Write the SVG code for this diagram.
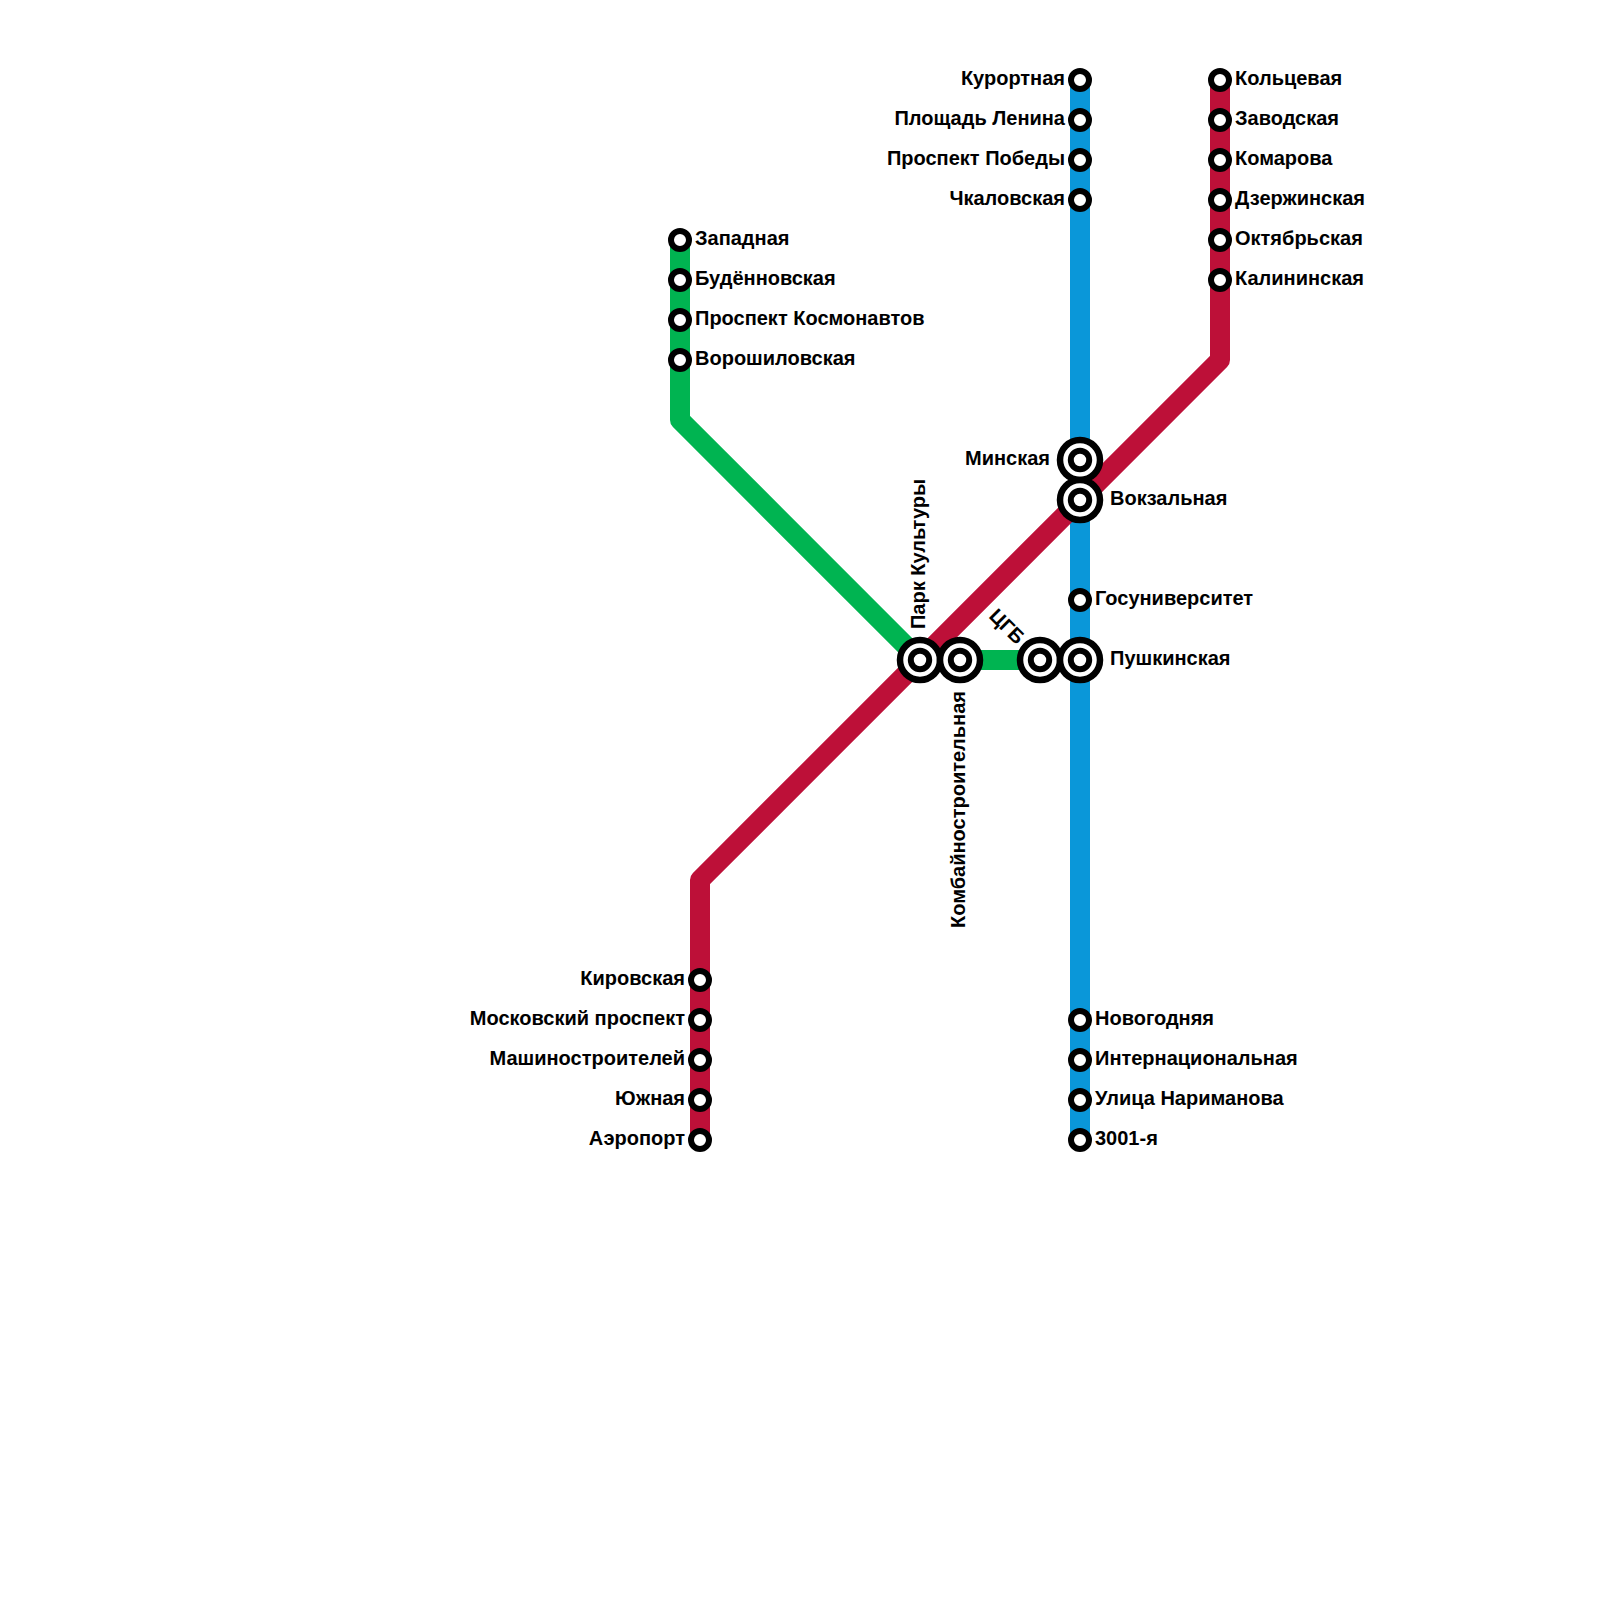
<svg xmlns="http://www.w3.org/2000/svg" width="1600" height="1600" viewBox="0 0 1600 1600">
<style>
.line{fill:none;stroke-width:20;stroke-linejoin:round}
.s{fill:#fff;stroke:#000;stroke-width:6}
.o{fill:#fff;stroke:#000;stroke-width:6.5}
text{font-family:"Liberation Sans",Arial,sans-serif;font-weight:700;font-size:20px;fill:#000}
.e{text-anchor:end}
</style>
<defs>
<g id="st"><circle class="s" r="9"/></g>
<g id="ic"><circle class="o" r="20"/><circle class="s" r="9.2"/></g>
</defs>
<rect width="1600" height="1600" fill="#fff"/>
<g id="connectors">
<path id="line-blue" class="line" stroke="#0a97d9" d="M1080 80V1140"/>
<path id="line-green" class="line" stroke="#00b451" d="M680 240V420L920 660H1040"/>
<path id="line-red" class="line" stroke="#bd1038" d="M1220 80V360L700 880V1140"/>
</g>
<g id="n-kurortnaya"><use href="#st" x="1080" y="80"/><text class="e" x="1065" y="85">Курортная</text></g>
<g id="n-ploshchad-lenina"><use href="#st" x="1080" y="120"/><text class="e" x="1065" y="125">Площадь Ленина</text></g>
<g id="n-prospekt-pobedy"><use href="#st" x="1080" y="160"/><text class="e" x="1065" y="165">Проспект Победы</text></g>
<g id="n-chkalovskaya"><use href="#st" x="1080" y="200"/><text class="e" x="1065" y="205">Чкаловская</text></g>
<g id="n-koltsevaya"><use href="#st" x="1220" y="80"/><text x="1235" y="85">Кольцевая</text></g>
<g id="n-zavodskaya"><use href="#st" x="1220" y="120"/><text x="1235" y="125">Заводская</text></g>
<g id="n-komarova"><use href="#st" x="1220" y="160"/><text x="1235" y="165">Комарова</text></g>
<g id="n-dzerzhinskaya"><use href="#st" x="1220" y="200"/><text x="1235" y="205">Дзержинская</text></g>
<g id="n-oktyabrskaya"><use href="#st" x="1220" y="240"/><text x="1235" y="245">Октябрьская</text></g>
<g id="n-kalininskaya"><use href="#st" x="1220" y="280"/><text x="1235" y="285">Калининская</text></g>
<g id="n-zapadnaya"><use href="#st" x="680" y="240"/><text x="695" y="245">Западная</text></g>
<g id="n-budyonnovskaya"><use href="#st" x="680" y="280"/><text x="695" y="285">Будённовская</text></g>
<g id="n-prospekt-kosmonavtov"><use href="#st" x="680" y="320"/><text x="695" y="325">Проспект Космонавтов</text></g>
<g id="n-voroshilovskaya"><use href="#st" x="680" y="360"/><text x="695" y="365">Ворошиловская</text></g>
<g id="n-minskaya"><use href="#ic" x="1080" y="460"/><text class="e" x="1050" y="464.5">Минская</text></g>
<g id="n-vokzalnaya"><use href="#ic" x="1080" y="500"/><text x="1110" y="505">Вокзальная</text></g>
<g id="n-gosuniversitet"><use href="#st" x="1080" y="600"/><text x="1095" y="605">Госуниверситет</text></g>
<g id="n-park-kultury"><use href="#ic" x="920" y="660"/><text transform="translate(925 629) rotate(-90)">Парк Культуры</text></g>
<g id="n-kombainostroitelnaya"><use href="#ic" x="960" y="660"/><text class="e" transform="translate(965 691) rotate(-90)">Комбайностроительная</text></g>
<g id="n-tsgb"><use href="#ic" x="1040" y="660"/><text transform="translate(988 617) rotate(45)">ЦГБ</text></g>
<g id="n-pushkinskaya"><use href="#ic" x="1080" y="660"/><text x="1110" y="665">Пушкинская</text></g>
<g id="n-kirovskaya"><use href="#st" x="700" y="980"/><text class="e" x="685" y="985">Кировская</text></g>
<g id="n-moskovsky-prospekt"><use href="#st" x="700" y="1020"/><text class="e" x="685" y="1025">Московский проспект</text></g>
<g id="n-mashinostroiteley"><use href="#st" x="700" y="1060"/><text class="e" x="685" y="1065">Машиностроителей</text></g>
<g id="n-yuzhnaya"><use href="#st" x="700" y="1100"/><text class="e" x="685" y="1105">Южная</text></g>
<g id="n-aeroport"><use href="#st" x="700" y="1140"/><text class="e" x="685" y="1145">Аэропорт</text></g>
<g id="n-novogodnyaya"><use href="#st" x="1080" y="1020"/><text x="1095" y="1025">Новогодняя</text></g>
<g id="n-internatsionalnaya"><use href="#st" x="1080" y="1060"/><text x="1095" y="1065">Интернациональная</text></g>
<g id="n-ulitsa-narimanova"><use href="#st" x="1080" y="1100"/><text x="1095" y="1105">Улица Нариманова</text></g>
<g id="n-3001"><use href="#st" x="1080" y="1140"/><text x="1095" y="1145">3001-я</text></g>
</svg>
